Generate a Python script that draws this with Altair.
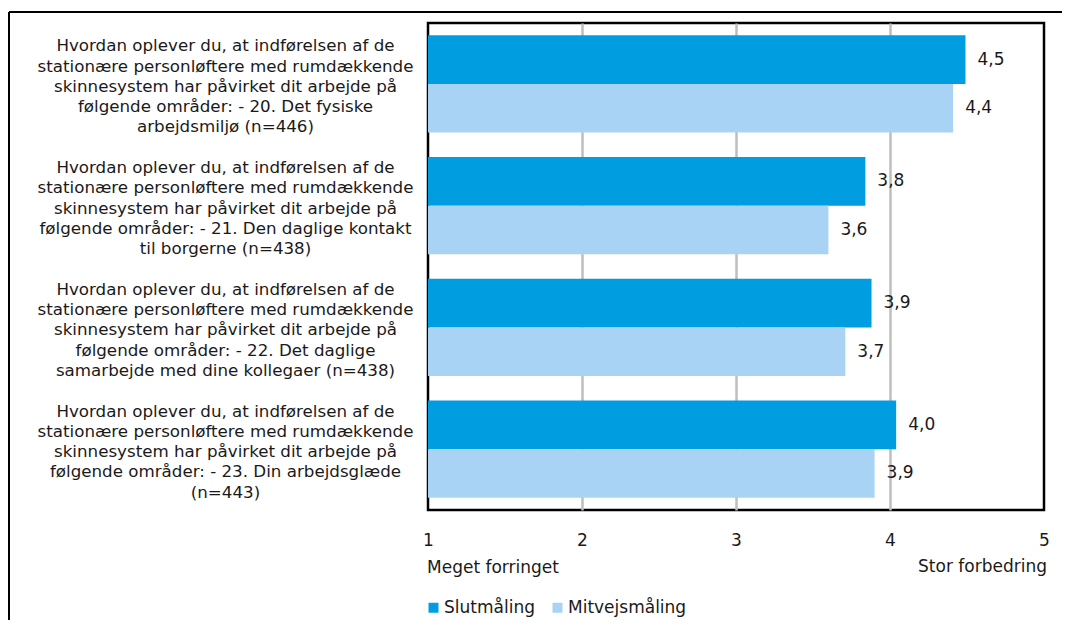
import altair as alt
import pandas as pd

# ---------------- data ----------------
categories = [
    "Hvordan oplever du, at indførelsen af de\nstationære personløftere med rumdækkende\nskinnesystem har påvirket dit arbejde på\nfølgende områder: - 20. Det fysiske\narbejdsmiljø (n=446)",
    "Hvordan oplever du, at indførelsen af de\nstationære personløftere med rumdækkende\nskinnesystem har påvirket dit arbejde på\nfølgende områder: - 21. Den daglige kontakt\ntil borgerne (n=438)",
    "Hvordan oplever du, at indførelsen af de\nstationære personløftere med rumdækkende\nskinnesystem har påvirket dit arbejde på\nfølgende områder: - 22. Det daglige\nsamarbejde med dine kollegaer (n=438)",
    "Hvordan oplever du, at indførelsen af de\nstationære personløftere med rumdækkende\nskinnesystem har påvirket dit arbejde på\nfølgende områder: - 23. Din arbejdsglæde\n(n=443)",
]
series = ["Slutmåling", "Mitvejsmåling"]
slutmaaling = [4.49, 3.84, 3.88, 4.04]
mitvejsmaaling = [4.41, 3.60, 3.71, 3.90]
x_ticks = [1, 2, 3, 4, 5]
x_low_label = "Meget forringet"
x_high_label = "Stor forbedring"
colors = ["#009EE0", "#A9D3F5"]

rows = []
for i, c in enumerate(categories):
    rows.append({"cat": c, "serie": series[0], "value": slutmaaling[i]})
    rows.append({"cat": c, "serie": series[1], "value": mitvejsmaaling[i]})
df = pd.DataFrame(rows)
one = pd.DataFrame({"a": [0]})

W, H = 616, 487
FONT = "DejaVu Sans"
TXT = "#1a1a1a"
LH = 20.3

y_enc = alt.Y(
    "cat:N",
    sort=categories,
    scale=alt.Scale(paddingInner=0.2, paddingOuter=0.1),
    axis=alt.Axis(
        title=None, ticks=False, domain=False,
        labelAlign="center", labelBaseline="middle", labelPadding=203,
        labelExpr="split(datum.label, '\\n')",
        labelFont=FONT, labelFontSize=16.7, labelLineHeight=LH,
        labelColor=TXT, labelLimit=0, labelOffset=3 - 2 * LH,
    ),
)
yoff = alt.YOffset("serie:N", sort=series)
x_scale = alt.Scale(domain=[1, 5], nice=False, zero=False)

bars = alt.Chart(df).mark_bar().encode(
    y=y_enc,
    yOffset=yoff,
    x=alt.X(
        "value:Q", scale=x_scale,
        axis=alt.Axis(
            values=x_ticks, title=None, ticks=False, domain=False, grid=True,
            gridColor=alt.condition(
                "datum.value == 1 || datum.value == 5",
                alt.value("rgba(0,0,0,0)"),
                alt.value("#BEBEBE"),
            ),
            gridWidth=2.5, labelFlush=False, labelPadding=22,
            labelFont=FONT, labelFontSize=17, labelColor=TXT, format="d",
        ),
    ),
    x2=alt.datum(1),
    color=alt.Color(
        "serie:N", sort=series,
        scale=alt.Scale(domain=series, range=colors),
        legend=alt.Legend(
            title=None, orient="none", legendX=-3, legendY=576,
            direction="horizontal", symbolType="square", symbolSize=100,
            symbolStrokeWidth=0, labelFont=FONT, labelFontSize=17, labelColor=TXT,
            labelOffset=2, columnPadding=14, padding=0,
        ),
    ),
)

labels = alt.Chart(df).transform_calculate(
    lbl="replace(format(datum.value, '.1f'), '.', ',')"
).mark_text(
    align="left", baseline="middle", dx=12, font=FONT, fontSize=17, color=TXT
).encode(
    y=alt.Y("cat:N", sort=categories),
    yOffset=yoff,
    x=alt.X("value:Q", scale=x_scale),
    text="lbl:N",
)

outer_top = alt.Chart(one).mark_rule(color="black", strokeWidth=2).encode(
    x=alt.value(-419), x2=alt.value(W + 40), y=alt.value(-11)
)
outer_left = alt.Chart(one).mark_rule(color="black", strokeWidth=2).encode(
    x=alt.value(-419), y=alt.value(-11), y2=alt.value(H + 140)
)

low_txt = alt.Chart(one).mark_text(
    text=x_low_label, align="left", baseline="alphabetic", font=FONT, fontSize=17, color=TXT
).encode(x=alt.value(-1), y=alt.value(550))
high_txt = alt.Chart(one).mark_text(
    text=x_high_label, align="right", baseline="alphabetic", font=FONT, fontSize=17, color=TXT
).encode(x=alt.value(W + 3), y=alt.value(549))

chart = alt.layer(
    bars, labels, outer_top, outer_left, low_txt, high_txt
).properties(
    width=W, height=H,
    autosize=alt.AutoSizeParams(type="none"),
    padding={"left": 420, "top": 15, "right": 18, "bottom": 110},
    background="white",
).configure_view(stroke="black", strokeWidth=2.5)

chart.save("out.html", embed_options={"renderer": "svg", "actions": False})
